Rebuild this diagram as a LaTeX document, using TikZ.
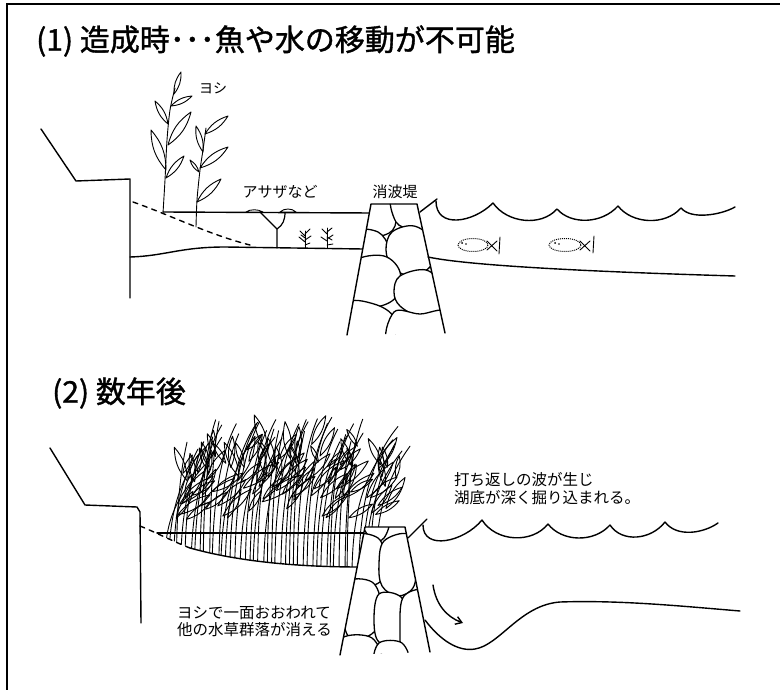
\documentclass[tikz,border=0pt]{standalone}
\usepackage{fontspec}
\setmainfont{Noto Sans CJK JP}
\newfontfamily\headfont[FakeBold=1.2]{Noto Sans CJK JP}
\usetikzlibrary{arrows.meta}
\newcommand\reedleaf[2]{\draw[reedline] #1 to[bend left=20] #2 to[bend left=20] #1;}
\begin{document}
\begin{tikzpicture}[x=1pt,y=-1pt,
  ink/.style={line width=1.4pt, line cap=round, line join=round},
  reedline/.style={line width=0.9pt, line cap=round, line join=round},
  stone/.style={line width=1.3pt, line join=round, fill=white},
  fishline/.style={line width=1pt, densely dotted},
  lbl/.style={inner sep=0pt, font=\fontsize{15}{18}\selectfont},
  ttl/.style={inner sep=0pt, anchor=west, font=\headfont\fontsize{30}{34}\selectfont},
  ]
\useasboundingbox (0,0) rectangle (780,690);
\fill[white] (0,0) rectangle (780,690);

% frame
\draw[line width=2.2pt] (7,690) -- (7,4.3) -- (780,4.3);

% ================= (1) =================
\node[ttl] (title1) at (36,41) {(1) 造成時･･･魚や水の移動が不可能};

% embankment and wall
\draw[ink] (41,129) -- (76,181) -- (130,179) -- (130,298);
% former shore line
\draw[ink, dash pattern=on 5pt off 5pt] (133,202) .. controls (170,215) and (210,235) .. (250,245);
% water surface and lake bottom
\draw[ink] (163,212) -- (372,213);
\draw[ink] (130,257) .. controls (165,256) and (180,247) .. (225,247) -- (363,249);

% reed 1
\draw[reedline] plot[smooth] coordinates {(163,213) (165,180) (167,140) (170,110) (175,88)};
\reedleaf{(166,178)}{(184,156)}
\reedleaf{(166,170)}{(151,130)}
\reedleaf{(168,145)}{(191,112)}
\reedleaf{(168,124)}{(155,101)}
\reedleaf{(171,106)}{(192,96)}
\reedleaf{(174,94)}{(181,72)}
% reed 2
\draw[reedline] plot[smooth] coordinates {(196,227) (197,200) (200,170) (203,150) (206,128)};
\reedleaf{(197,202)}{(221,179)}
\reedleaf{(199,172)}{(190,160)}
\reedleaf{(200,168)}{(228,147)}
\reedleaf{(203,152)}{(196,126)}
\reedleaf{(205,134)}{(228,116)}
\node[lbl, anchor=west, font=\fontsize{14}{16}\selectfont] (yoshi) at (199,88) {ヨシ};

% floating-leaf plant
\draw[reedline, line width=1.2pt] (277,248) -- (277,229) .. controls (270,222) and (264,216) .. (260,212);
\draw[reedline, line width=1.2pt] (277,229) .. controls (283,225) and (285,220) .. (285,212);
\draw[reedline, fill=white] (246,212) .. controls (250,209) and (258,209) .. (263,212) -- cycle;
\draw[reedline, fill=white] (280,212) .. controls (284,208) and (292,208) .. (296,212) -- cycle;
\node[lbl] (asaza) at (280,192) {アサザなど};

% submerged plants
\draw[reedline] (305,248) -- (305,231);
\draw[reedline] (305,242) -- (299,237) (305,240) -- (311,236) (305,236) -- (300,231) (305,234) -- (310,229) (305,245) -- (310,243) (305,238) -- (301,235);
\draw[reedline] (327,248) -- (327,228);
\draw[reedline] (327,241) -- (321,237) (327,239) -- (333,235) (327,234) -- (322,229) (327,232) -- (332,228) (327,245) -- (333,244) (327,237) -- (332,240);

% breakwater 1
\coordinate (bwa) at (371,204);
\coordinate (bwb) at (417,204);
\coordinate (bwc) at (445,333);
\coordinate (bwd) at (347,335);
\fill[white] (bwa) -- (bwb) -- (bwc) -- (bwd) -- cycle;
\begin{scope}
  \clip (bwa) -- (bwb) -- (bwc) -- (bwd) -- cycle;
  \draw[stone] plot[smooth cycle, tension=0.6] coordinates {(364,196) (392,196) (395,226) (380,236) (362,230)};
  \draw[stone] plot[smooth cycle, tension=0.6] coordinates {(392,196) (424,196) (428,236) (412,230) (396,222)};
  \draw[stone] plot[smooth cycle, tension=0.6] coordinates {(356,232) (378,232) (389,248) (384,262) (356,262)};
  \draw[stone] plot[smooth cycle, tension=0.6] coordinates {(392,232) (414,226) (432,240) (432,264) (413,276) (393,268) (386,250)};
  \draw[stone] plot[smooth cycle, tension=0.6] coordinates {(356,260) (384,256) (400,272) (396,297) (376,307) (354,304) (350,280)};
  \draw[stone] plot[smooth cycle, tension=0.6] coordinates {(400,276) (426,270) (442,286) (442,308) (420,316) (400,306) (394,292)};
  \draw[stone] plot[smooth cycle, tension=0.6] coordinates {(346,304) (374,304) (394,318) (390,345) (344,345)};
  \draw[stone] plot[smooth cycle, tension=0.6] coordinates {(394,312) (420,314) (446,312) (452,345) (390,345)};
\end{scope}
\draw[ink] (bwd) -- (bwa) -- (bwb) -- (bwc);
\node[lbl] (bwlabel1) at (395,192) {消波堤};

% waves and lake bottom, right side
\draw[ink] (420,212) -- (437,199);
\draw[ink] (436,201) .. controls +(0,28) and +(-20,20) .. (493,203)
  .. controls +(14,20) and +(-16,18) .. (557,209)
  .. controls +(14,16) and +(-16,18) .. (618,206)
  .. controls +(14,18) and +(-16,18) .. (681,208)
  .. controls +(10,12) and +(-14,8) .. (735,207);
\draw[ink] (428,257) .. controls (470,266) and (600,272) .. (735,276);

% fish
\draw[fishline] (473,245) ellipse [x radius=15, y radius=6.5];
\draw[reedline] (487,241) -- (497,251) (487,250) -- (497,241) (500,237) -- (499,254);
\fill (462,243) circle (1) (466,244) circle (0.9);
\draw[fishline] (565,245) ellipse [x radius=16, y radius=6.5];
\draw[reedline] (580,241) -- (590,251) (580,250) -- (590,241) (594,236) -- (593,253);
\fill (555,243) circle (1) (559,244) circle (0.9);

% ================= (2) =================
\node[ttl] (title2) at (52,393) {(2) 数年後};

% embankment and wall
\draw[ink] (50,448) -- (85,505) -- (137,507) -- (140,512) -- (141,623);
% lake bottom under the reed bed
\draw[ink, dash pattern=on 5pt off 5pt] (140,526) .. controls (155,532) and (172,541) .. (190,548);
\draw[ink] (190,548) .. controls (240,562) and (300,567) .. (360,567);
% water surface
\draw[ink] (157,533) -- (366,533);

% dense reed bed
\pgfmathsetseed{11}
\begin{scope}
  \clip (140,380) -- (140,526) .. controls (155,532) and (172,541) .. (190,548)
        .. controls (240,562) and (300,567) .. (360,567) -- (365,527) -- (425,527) -- (425,380) -- cycle;
  \foreach \i in {0,...,47} {
    \pgfmathsetmacro\xa{162+\i*4.5+3*rnd}
    \pgfmathsetmacro\lean{8+34*rnd}
    \pgfmathsetmacro\yt{416+26*rnd+max(0,195-\xa)*1.3+max(0,\xa-350)*0.6}
    \draw[reedline] (\xa,585) .. controls (\xa,525) and (\xa+0.15*\lean,\yt+40) .. (\xa+\lean,\yt);
    % lower leaf
    \pgfmathsetmacro\sa{0.45+0.2*rnd}
    \pgfmathsetmacro\lx{\xa+\lean*\sa*\sa}
    \pgfmathsetmacro\ly{585-(585-\yt)*\sa}
    \pgfmathsetmacro\aa{30+40*rnd}
    \pgfmathsetmacro\la{24+24*rnd}
    \pgfmathsetmacro\ex{\lx+\la*cos(\aa)}
    \pgfmathsetmacro\ey{\ly-\la*sin(\aa)}
    \reedleaf{(\lx,\ly)}{(\ex,\ey)}
    % upper leaf
    \pgfmathsetmacro\sb{0.7+0.15*rnd}
    \pgfmathsetmacro\mx{\xa+\lean*\sb*\sb}
    \pgfmathsetmacro\my{585-(585-\yt)*\sb}
    \pgfmathsetmacro\ab{45+80*rnd}
    \pgfmathsetmacro\lb{18+20*rnd}
    \pgfmathsetmacro\fx{\mx+\lb*cos(\ab)}
    \pgfmathsetmacro\fy{\my-\lb*sin(\ab)}
    \reedleaf{(\mx,\my)}{(\fx,\fy)}
  }
\end{scope}

% breakwater 2
\coordinate (bba) at (365,527);
\coordinate (bbb) at (405,527);
\coordinate (bbc) at (430,652);
\coordinate (bbd) at (340,655);
\fill[white] (bba) -- (bbb) -- (bbc) -- (bbd) -- cycle;
\begin{scope}
  \clip (bba) -- (bbb) -- (bbc) -- (bbd) -- cycle;
  \draw[stone] plot[smooth cycle, tension=0.6] coordinates {(362,520) (388,520) (384,538) (372,540)};
  \draw[stone] plot[smooth cycle, tension=0.6] coordinates {(354,538) (378,538) (385,560) (380,582) (354,584)};
  \draw[stone] plot[smooth cycle, tension=0.6] coordinates {(384,541) (408,534) (416,555) (414,586) (398,596) (382,586) (379,564)};
  \draw[stone] plot[smooth cycle, tension=0.6] coordinates {(346,582) (372,582) (381,605) (374,632) (350,638) (342,610)};
  \draw[stone] plot[smooth cycle, tension=0.6] coordinates {(379,594) (401,597) (407,620) (400,642) (379,642) (374,620)};
  \draw[stone] plot[smooth cycle, tension=0.6] coordinates {(404,596) (428,592) (436,630) (430,658) (404,655) (400,626)};
  \draw[stone] plot[smooth cycle, tension=0.6] coordinates {(342,638) (372,638) (380,664) (336,664)};
  \draw[stone] plot[smooth cycle, tension=0.6] coordinates {(379,643) (402,643) (408,664) (376,664)};
\end{scope}
\draw[ink] (bbd) -- (bba) -- (bbb) -- (bbc);

% waves, scour and lake bottom
\draw[ink] (408,538) -- (427,519);
\draw[ink] (423,525) .. controls +(0,26) and +(-18,22) .. (482,520)
  .. controls +(14,22) and +(-16,20) .. (548,524)
  .. controls +(14,18) and +(-16,18) .. (610,525)
  .. controls +(12,18) and +(-14,18) .. (665,522)
  .. controls +(12,16) and +(-14,10) .. (718,523);
\draw[ink] (425,620) .. controls (440,640) and (458,652) .. (475,649)
  .. controls (500,645) and (520,605) .. (560,602)
  .. controls (620,600) and (680,606) .. (740,611);
\draw[ink, -{Straight Barb[length=6pt,width=8pt]}] (433,585) .. controls (436,605) and (447,617) .. (463,623);

% labels
\node[lbl, anchor=north west, align=left, font=\fontsize{15.5}{18}\selectfont] (waves) at (454,472) {打ち返しの波が生じ\\湖底が深く掘り込まれる。};
\node[lbl, anchor=north west, align=left, font=\fontsize{15.5}{17}\selectfont] (reedbed) at (177,606) {ヨシで一面おおわれて\\他の水草群落が消える};
\end{tikzpicture}
\end{document}
